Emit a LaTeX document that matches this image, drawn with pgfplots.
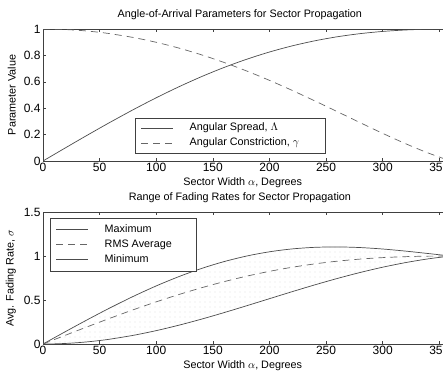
\documentclass[border=0pt]{standalone}
\usepackage{fontspec}
\setmainfont{Liberation Sans}
\usepackage{pgfplots}
\usepackage{pgfplotstable}
\pgfplotsset{compat=1.18}
\usepgfplotslibrary{fillbetween}
\usetikzlibrary{patterns}
\pgfdeclarepatternformonly{sparsedots}{\pgfqpoint{-1pt}{-1pt}}{\pgfqpoint{1pt}{1pt}}{\pgfqpoint{5pt}{5pt}}{%
  \pgfpathcircle{\pgfqpoint{0pt}{0pt}}{0.45pt}\pgfusepath{fill}}

\pgfplotstableread{
d    spread   constr
0    0.0000   1.0000
10   0.0504   0.9990
20   0.1006   0.9959
30   0.1505   0.9908
40   0.1999   0.9838
50   0.2487   0.9747
60   0.2968   0.9635
80   0.3902   0.9353
100  0.4790   0.8993
120  0.5622   0.8555
140  0.6391   0.8044
160  0.7089   0.7462
180  0.7712   0.6815
200  0.8256   0.6109
220  0.8720   0.5352
240  0.9105   0.4556
260  0.9413   0.3736
280  0.9648   0.2909
300  0.9816   0.2095
320  0.9925   0.1321
340  0.9983   0.0613
360  1.0000   0.0000
}\paramtable

\pgfplotstableread{
d    maxr     rms      minr
0    0.0000   0.0000   0.0000
10   0.0712   0.0504   0.0016
20   0.1421   0.1006   0.0064
30   0.2123   0.1505   0.0144
40   0.2816   0.1999   0.0255
50   0.3495   0.2487   0.0396
60   0.4159   0.2968   0.0567
80   0.5428   0.3902   0.0992
100  0.6601   0.4790   0.1520
120  0.7659   0.5622   0.2137
140  0.8585   0.6391   0.2826
160  0.9368   0.7089   0.3571
180  1.0000   0.7712   0.4352
200  1.0479   0.8256   0.5150
220  1.0805   0.8720   0.5945
240  1.0985   0.9105   0.6718
260  1.1032   0.9413   0.7450
280  1.0961   0.9648   0.8125
300  1.0795   0.9816   0.8727
320  1.0560   0.9925   0.9246
340  1.0284   0.9983   0.9672
360  1.0000   1.0000   1.0000
}\fadetable

\newcommand{\fs}{\fontsize{10.8}{12.5}\selectfont}
\newcommand{\ft}{\fontsize{12}{13}\selectfont}
\pgfplotsset{
  matstyle/.style={
    scale only axis, width=407.6pt, height=132pt,
    xmin=0, xmax=360, xtick={0,50,...,350},
    tick align=inside, major tick length=3pt,
    axis line style={black!75, line width=0.5pt},
    every tick/.style={black!75, line width=0.5pt},
    /pgf/number format/assume math mode=true,
    font=\fs,
    tick label style={font=\ft},
    title style={at={(axis description cs:0.483,1)}, anchor=base, yshift=5.5pt, font=\fs},
    xlabel style={at={(axis description cs:0.49,0)}, anchor=base, yshift=-24pt, font=\fs},
    ylabel style={at={(axis description cs:-0.058,0.5)}, anchor=south, font=\fs},
    xticklabel style={yshift=1.5pt},
    yticklabel style={xshift=1pt},
    legend cell align=left,
    legend image code/.code={\draw[#1] (0pt,0pt) -- (32pt,0pt);},
    legend style={draw=black!75, line width=0.5pt, inner xsep=6pt, inner ysep=3.5pt,
      font=\fs, row sep=2.5pt,
      nodes={inner ysep=1pt, text height=8pt, text depth=2.5pt}},
  },
  curve/.style={black!70, line width=0.7pt, smooth},
  dcurve/.style={black!60, line width=0.7pt, smooth, dash pattern=on 7pt off 5pt},
}

\begin{document}
\begin{tikzpicture}
\begin{axis}[matstyle, at={(43pt,-29pt)}, anchor=north west,
  ymin=0, ymax=1, ytick={0,0.2,...,1},
  title={Angle-of-Arrival Parameters for Sector Propagation},
  xlabel={Sector Width $\alpha$, Degrees},
  ylabel={Parameter Value},
  legend style={at={(axis cs:81,0.06)}, anchor=south west}]
\addplot[curve] table[x=d, y=spread] {\paramtable};
\addlegendentry{\hspace*{14pt}Angular Spread, $\Lambda$\hspace*{18pt}}
\addplot[dcurve] table[x=d, y=constr] {\paramtable};
\addlegendentry{\hspace*{14pt}Angular Constriction, $\gamma$\hspace*{18pt}}
\end{axis}

\begin{axis}[matstyle, at={(43pt,-212pt)}, anchor=north west,
  ymin=0, ymax=1.5, ytick={0,0.5,1,1.5},
  yticklabels={0,0.5,1,1.5},
  title={Range of Fading Rates for Sector Propagation},
  xlabel={Sector Width $\alpha$, Degrees},
  ylabel={Avg. Fading Rate, $\sigma$},
  legend style={at={(axis cs:6,1.43)}, anchor=north west, inner ysep=5pt}]
\addplot[curve, name path=maxp] table[x=d, y=maxr] {\fadetable};
\addlegendentry{\hspace*{14pt}Maximum\hspace*{16pt}}
\addplot[dcurve] table[x=d, y=rms] {\fadetable};
\addlegendentry{\hspace*{14pt}RMS Average\hspace*{16pt}}
\addplot[curve, name path=minp] table[x=d, y=minr] {\fadetable};
\addlegendentry{\hspace*{14pt}Minimum\hspace*{16pt}}
\addplot[pattern=sparsedots, pattern color=black!35, draw=none, forget plot] fill between[of=maxp and minp];
\end{axis}
\pgfresetboundingbox
\path[use as bounding box] (0pt,0pt) rectangle (443pt,-372pt);
\end{tikzpicture}
\end{document}
